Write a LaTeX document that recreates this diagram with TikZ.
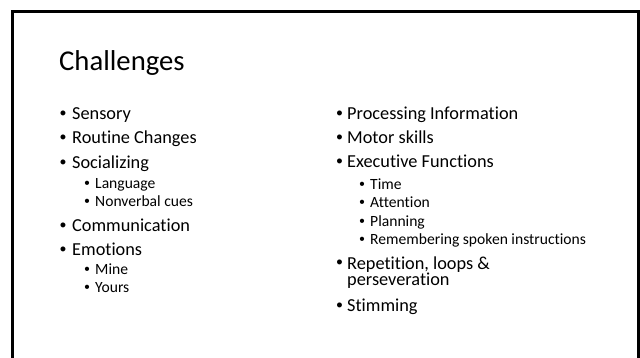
\documentclass[tikz,border=0pt]{standalone}
\usepackage{fontspec}
\setmainfont{Carlito}[Ligatures=NoCommon]
\newfontfamily\bulfont{Liberation Sans}
\begin{document}
\begin{tikzpicture}[x=1pt,y=-1pt,
  ttl/.style={anchor=base west,inner sep=0,font=\fontsize{28.7}{30}\selectfont},
  lvla/.style={anchor=base west,inner sep=0,font=\fontsize{18.3}{20}\selectfont},
  lvlb/.style={anchor=base west,inner sep=0,font=\fontsize{15.6}{17}\selectfont},
  bula/.style={anchor=base,inner sep=0,font=\bulfont\fontsize{18.3}{20}\selectfont},
  bulb/.style={anchor=base,inner sep=0,font=\bulfont\fontsize{15.6}{17}\selectfont},
  frame/.style={line width=3pt,black}]
\useasboundingbox (0,0) rectangle (640,358);
\fill[white] (0,0) rectangle (640,358);
\draw[frame] (12.5,380) -- (12.5,11.5) -- (638.5,11.5) -- (638.5,380);

\node[ttl] (title) at (59,71) {Challenges};

% left column
\node[bula] (b1) at (63,120) {•};   \node[lvla] (t1) at (72,120) {Sensory};
\node[bula] (b2) at (63,144) {•};   \node[lvla] (t2) at (72,144) {Routine Changes};
\node[bula] (b3) at (63,168.3) {•}; \node[lvla] (t3) at (72,168.3) {Socializing};
\node[bulb] (b4) at (87,189) {•};   \node[lvlb] (t4) at (95,189) {Language};
\node[bulb] (b5) at (87,207) {•};   \node[lvlb] (t5) at (95,207) {Nonverbal cues};
\node[bula] (b6) at (63,231.7) {•}; \node[lvla] (t6) at (72,231.7) {Communication};
\node[bula] (b7) at (63,255.5) {•}; \node[lvla] (t7) at (72,255.5) {Emotions};
\node[bulb] (b8) at (87,275) {•};   \node[lvlb] (t8) at (95,275) {Mine};
\node[bulb] (b9) at (87,292.7) {•}; \node[lvlb] (t9) at (95,292.7) {Yours};

% right column
\node[bula] (r1) at (339.5,119.3) {•}; \node[lvla] (s1) at (347,119.3) {Processing Information};
\node[bula] (r2) at (339.5,143.3) {•}; \node[lvla] (s2) at (347,143.3) {Motor skills};
\node[bula] (r3) at (339.5,167.3) {•}; \node[lvla] (s3) at (347,167.3) {Executive Functions};
\node[bulb] (r4) at (362,189.5) {•};   \node[lvlb] (s4) at (370,189.5) {Time};
\node[bulb] (r5) at (362,207.8) {•};   \node[lvlb] (s5) at (370,207.8) {Attention};
\node[bulb] (r6) at (362,226.3) {•};   \node[lvlb] (s6) at (370,226.3) {Planning};
\node[bulb] (r7) at (362,244) {•};     \node[lvlb] (s7) at (370,244) {Remembering spoken instructions};
\node[bula] (r8) at (339.5,269) {•};
\node[lvla,anchor=north west,align=left,font=\fontsize{18.3}{14.8}\selectfont] (s8) at ([yshift=12.5pt]347,269)
  {Repetition, loops \&\\perseveration};
\node[bula] (r9) at (339.5,311.7) {•}; \node[lvla] (s9) at (347,311.7) {Stimming};
\end{tikzpicture}
\end{document}
